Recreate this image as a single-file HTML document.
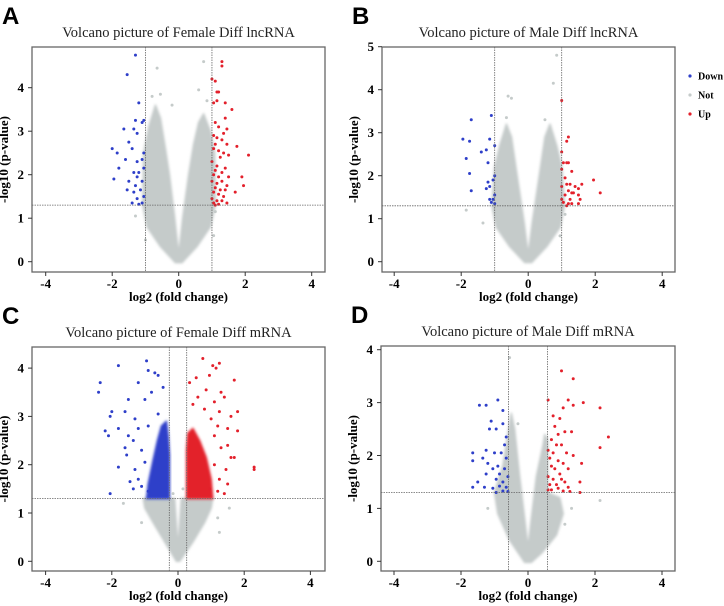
<!DOCTYPE html>
<html><head><meta charset="utf-8"><style>
html,body{margin:0;padding:0;background:#fff;width:724px;height:606px;overflow:hidden}
svg text{font-family:"Liberation Serif",serif}
</style></head><body>
<svg id="fig" width="724" height="606" xmlns="http://www.w3.org/2000/svg">
<defs><filter id="soft" x="-10%" y="-10%" width="120%" height="120%"><feGaussianBlur stdDeviation="1.2"/></filter></defs>
</svg>
<script>
// ---- Panel A data ----
const aCloud=[[-0.1,-0.02],[-0.55,0.35],[-0.95,0.8],[-1.08,1.3],[-1.05,2.5],[-0.9,3.1],[-0.7,3.6],[-0.55,3.3],[-0.4,2.6],[-0.28,2.0],[-0.12,1.0],[0,0.15],[0.12,1.0],[0.3,2.0],[0.45,2.7],[0.6,3.2],[0.75,3.4],[0.95,3.0],[1.08,2.5],[1.1,1.3],[0.95,0.8],[0.55,0.35],[0.1,-0.02]];
const aUp=[[1.3,4.6],[1.3,4.5],[1.0,4.2],[1.1,4.15],[1.15,3.9],[1.2,3.9],[1.05,3.65],[1.15,3.7],[1.4,3.65],[1.6,3.5],[1.4,3.3],[1.1,3.2],[1.2,3.1],[1.45,3.05],[1.35,2.95],[1.05,2.9],[1.15,2.85],[1.3,2.8],[1.1,2.7],[1.45,2.7],[1.75,2.65],[1.05,2.6],[1.2,2.55],[1.35,2.5],[1.5,2.45],[2.1,2.45],[1.25,2.4],[1.0,2.3],[1.15,2.2],[1.4,2.15],[1.1,2.1],[1.3,2.05],[1.05,2.0],[1.2,1.95],[1.5,1.95],[1.9,1.95],[1.0,1.85],[1.3,1.85],[1.15,1.8],[1.45,1.75],[1.95,1.75],[1.1,1.7],[1.25,1.65],[1.4,1.65],[1.05,1.6],[1.7,1.6],[1.2,1.55],[1.35,1.5],[1.0,1.45],[1.15,1.4],[1.3,1.4],[1.45,1.35],[1.05,1.35],[1.2,1.32],[1.1,1.3]];
const aDown=[[-1.3,4.75],[-1.55,4.3],[-1.2,3.65],[-1.3,3.25],[-1.05,3.25],[-1.1,3.2],[-1.65,3.05],[-1.35,3.05],[-1.25,2.95],[-1.5,2.75],[-2.0,2.6],[-1.4,2.6],[-1.85,2.5],[-1.05,2.5],[-1.6,2.35],[-1.25,2.3],[-1.1,2.35],[-1.8,2.15],[-1.05,2.15],[-1.35,2.05],[-1.2,2.05],[-1.25,1.95],[-1.95,1.9],[-1.5,1.85],[-1.1,1.85],[-1.3,1.75],[-1.55,1.65],[-1.15,1.65],[-1.35,1.6],[-1.05,1.5],[-1.25,1.45],[-1.4,1.35],[-1.1,1.35],[-1.2,1.32]];
const aNot=[[0.75,4.6],[-0.65,4.45],[-0.55,3.85],[0.6,3.95],[-0.2,3.6],[0.85,3.7],[-0.8,3.8],[1.1,1.15],[-0.95,1.0],[-1.3,1.05],[1.05,0.6],[-1.0,0.5]];
// ---- Panel B data ----
const bCloud=[[-0.1,-0.02],[-0.55,0.35],[-0.95,0.8],[-1.08,1.3],[-1.0,2.2],[-0.85,2.7],[-0.65,3.2],[-0.5,2.9],[-0.35,2.1],[-0.12,0.9],[0,0.15],[0.12,0.9],[0.35,2.1],[0.5,2.9],[0.65,3.2],[0.85,2.7],[1.0,2.2],[1.08,1.3],[0.95,0.8],[0.55,0.35],[0.1,-0.02]];
const bUp=[[1.0,3.75],[1.2,2.9],[1.15,2.8],[1.0,2.55],[1.05,2.3],[1.15,2.3],[1.2,2.3],[1.0,2.15],[1.3,2.1],[1.1,1.95],[1.95,1.9],[1.6,1.8],[1.0,1.75],[1.15,1.8],[1.25,1.8],[1.4,1.75],[1.5,1.7],[1.2,1.65],[1.3,1.6],[1.35,1.6],[2.15,1.6],[1.1,1.55],[1.5,1.55],[1.0,1.45],[1.25,1.45],[1.55,1.45],[1.05,1.38],[1.2,1.35],[1.3,1.35],[1.5,1.35],[1.15,1.3]];
const bDown=[[-1.7,3.3],[-1.1,3.4],[-1.95,2.85],[-1.75,2.8],[-1.15,2.85],[-1.0,2.7],[-1.4,2.55],[-1.25,2.6],[-1.85,2.4],[-1.2,2.3],[-1.75,2.05],[-1.0,2.0],[-1.2,1.85],[-1.05,1.9],[-1.15,1.75],[-1.25,1.7],[-1.7,1.65],[-1.0,1.55],[-1.15,1.45],[-1.05,1.45],[-1.1,1.38],[-1.0,1.35]];
const bNot=[[0.85,4.8],[0.75,4.15],[-0.6,3.85],[-0.5,3.8],[-0.65,3.35],[0.5,3.3],[-1.85,1.2],[-1.35,0.9],[1.1,1.1],[0.95,0.6]];
// ---- Panel C data ----
const cCloud=[[-0.05,0],[-0.4,0.4],[-0.75,0.8],[-1.0,1.1],[-1.05,1.3],[-0.1,1.3],[0,0.25],[0.1,1.3],[1.05,1.3],[1.0,1.1],[0.8,0.8],[0.45,0.4],[0.05,0]];
const cDownDense=[[-0.26,1.3],[-0.95,1.3],[-0.9,1.6],[-0.75,2.1],[-0.62,2.5],[-0.5,2.8],[-0.35,2.9],[-0.3,2.6],[-0.26,2.2]];
const cUpDense=[[0.26,1.3],[1.05,1.3],[1.0,1.7],[0.85,2.15],[0.65,2.5],[0.45,2.75],[0.3,2.65],[0.26,2.3]];
const cUp=[[0.75,4.2],[1.05,4.05],[1.25,4.1],[1.15,4.0],[0.55,3.8],[0.95,3.85],[1.7,3.75],[0.35,3.7],[0.85,3.55],[1.3,3.5],[0.6,3.4],[1.1,3.3],[1.4,3.4],[0.45,3.25],[1.8,3.1],[1.25,3.1],[1.6,3.0],[0.8,3.15],[1.0,2.95],[1.8,2.7],[1.5,2.75],[1.2,2.8],[1.5,2.4],[1.3,2.35],[1.1,2.6],[1.7,2.15],[1.6,2.15],[2.3,1.95],[2.3,1.9],[1.45,1.9],[1.25,1.7],[1.1,2.0],[1.5,1.6],[1.4,1.4],[1.2,1.45],[0.95,1.5]];
const cDown=[[-2.35,3.7],[-2.4,3.5],[-1.8,4.05],[-0.95,4.15],[-0.9,3.95],[-0.7,3.9],[-0.6,3.85],[-1.2,3.7],[-0.45,3.6],[-1.5,3.35],[-0.8,3.5],[-1.0,3.35],[-2.05,3.0],[-2.0,3.1],[-1.6,3.1],[-1.3,2.95],[-0.6,3.05],[-2.2,2.7],[-2.1,2.6],[-1.8,2.75],[-1.5,2.6],[-1.2,2.75],[-0.9,2.8],[-1.6,2.35],[-1.35,2.5],[-1.55,2.2],[-1.8,1.95],[-1.1,2.3],[-1.3,1.9],[-1.0,2.05],[-1.2,1.7],[-1.45,1.65],[-2.05,1.4],[-1.1,1.55],[-0.9,1.45],[-1.35,1.5]];
const cNot=[[-1.65,1.2],[1.55,1.1],[1.2,0.9],[-1.1,0.8],[0.15,1.5],[-0.15,1.4],[1.25,0.6]];
// ---- Panel D data ----
const dCloud=[[-0.1,-0.02],[-0.55,0.4],[-0.9,0.9],[-1.0,1.3],[-0.75,1.8],[-0.6,2.4],[-0.5,2.8],[-0.4,2.5],[-0.25,1.6],[-0.08,0.7],[0,0.25],[0.08,0.7],[0.25,1.6],[0.45,2.2],[0.5,2.4],[0.585,2.3],[0.585,1.3],[0.95,1.2],[1.05,0.9],[0.85,0.5],[0.4,0.15],[0.1,-0.02]];
const dUp=[[1.0,3.6],[1.35,3.45],[0.6,3.05],[1.2,3.05],[1.65,3.0],[2.15,2.9],[1.05,2.9],[1.35,2.95],[0.75,2.75],[0.95,2.7],[1.1,2.45],[1.3,2.45],[0.8,2.55],[0.9,2.4],[2.4,2.35],[0.7,2.3],[0.85,2.2],[1.0,2.2],[0.6,2.1],[0.75,2.05],[1.15,2.05],[2.15,2.15],[1.35,2.0],[0.65,1.95],[0.9,1.9],[1.05,1.85],[1.6,1.85],[0.7,1.8],[0.8,1.75],[1.2,1.75],[0.95,1.65],[0.6,1.6],[0.75,1.55],[1.0,1.55],[1.1,1.5],[1.55,1.5],[0.65,1.45],[0.85,1.45],[1.2,1.4],[0.6,1.35],[0.7,1.35],[0.9,1.38],[1.05,1.33],[1.55,1.3],[1.25,1.32]];
const dDown=[[-1.45,2.95],[-1.25,2.95],[-0.9,3.05],[-0.75,2.85],[-1.1,2.65],[-0.75,2.6],[-1.15,2.5],[-0.95,2.5],[-0.65,2.35],[-0.7,2.2],[-1.65,2.05],[-1.25,2.1],[-1.0,2.05],[-0.8,2.05],[-0.65,1.95],[-1.35,1.95],[-1.65,1.9],[-1.2,1.85],[-0.9,1.8],[-1.05,1.75],[-0.7,1.75],[-0.85,1.65],[-1.25,1.65],[-0.6,1.6],[-1.5,1.5],[-0.95,1.55],[-0.75,1.5],[-1.65,1.4],[-1.3,1.4],[-0.85,1.42],[-0.65,1.4],[-1.05,1.38],[-0.75,1.33],[-0.6,1.32],[-0.95,1.3]];
const dNot=[[-0.55,3.85],[2.15,1.15],[1.3,1.0],[-1.2,1.0],[-0.3,2.6],[1.1,0.7]];
const xTicks=[-4,-2,0,2,4];
const yTicksA=[0,1,2,3,4];
const yTicksB=[0,1,2,3,4,5];
const legendLabels=["Down","Not","Up"];

const NS="http://www.w3.org/2000/svg";
const svg=document.getElementById('fig');
const GREY="#c5cbca",BLUE="#2e3fc9",RED="#e3202b";
function mk(tag,attrs,parent){const e=document.createElementNS(NS,tag);for(const k in attrs)e.setAttribute(k,attrs[k]);(parent||svg).appendChild(e);return e;}

const panels=[
 {id:'a',letter:'A',title:'Volcano picture of Female Diff lncRNA',L:32,T:47,R:325,B:272,x0:178.7,xu:33.25,y0:261.7,yu:43.5,fc:1,yt:yTicksA,cloud:aCloud,up:aUp,down:aDown,not:aNot},
 {id:'b',letter:'B',title:'Volcano picture of Male Diff lncRNA',L:382,T:47,R:675,B:272,x0:528.2,xu:33.5,y0:261.7,yu:43,fc:1,yt:yTicksB,cloud:bCloud,up:bUp,down:bDown,not:bNot},
 {id:'c',letter:'C',title:'Volcano picture of Female Diff mRNA',L:32,T:347,R:325,B:571,x0:178,xu:33.1,y0:561.3,yu:48.3,fc:0.263,yt:yTicksA,cloud:cCloud,up:cUp,down:cDown,not:cNot,upDense:cUpDense,downDense:cDownDense},
 {id:'d',letter:'D',title:'Volcano picture of Male Diff mRNA',L:381,T:346,R:675,B:571,x0:528,xu:33.5,y0:561.3,yu:52.9,fc:0.585,yt:yTicksA,cloud:dCloud,up:dUp,down:dDown,not:dNot}
];

panels.forEach(p=>{
 const X=v=>p.x0+v*p.xu, Y=v=>p.y0-v*p.yu;
 const g=mk('g',{});
 
 
 const lt=mk('text',{x:p.L-30,y:p.T-23,'font-size':24,'font-weight':'bold',style:'font-family:"Liberation Sans",sans-serif'},g);
 lt.textContent=p.letter;
 
 
 const tt=mk('text',{x:(p.L+p.R)/2,y:p.T-10,'font-size':14.5,'text-anchor':'middle',fill:'#222'},g);
 tt.textContent=p.title;
 
 
 const cp='clip'+p.id;
 const defs=mk('defs',{},g);const cl=mk('clipPath',{id:cp},defs);mk('rect',{x:p.L,y:p.T,width:p.R-p.L,height:p.B-p.T},cl);
 const pl=mk('g',{'clip-path':'url(#'+cp+')'},g);
 const poly=(arr,col,name)=>{const e=mk('polygon',{points:arr.map(d=>X(d[0])+','+Y(d[1])).join(' '),fill:col,stroke:col,'stroke-width':1.5,'stroke-linejoin':'round',filter:'url(#soft)'},pl);
  
  };
 poly(p.cloud,GREY,'not-significant-cloud');
 if(p.downDense)poly(p.downDense,BLUE,'down-dense-cluster');
 if(p.upDense)poly(p.upDense,RED,'up-dense-cluster');
 const dots=(arr,col,name)=>arr.forEach(d=>{const c=mk('circle',{cx:X(d[0]),cy:Y(d[1]),r:1.5,fill:col},pl);
  
  });
 dots(p.not,GREY,'not-point');dots(p.down,BLUE,'down-point');dots(p.up,RED,'up-point');
 [-p.fc,p.fc].forEach(v=>{const l=mk('line',{x1:X(v),x2:X(v),y1:p.T,y2:p.B,stroke:'#666','stroke-width':0.8,'stroke-dasharray':'1.5,1'},g);
  
  });
 const hl=mk('line',{x1:p.L,x2:p.R,y1:Y(1.3),y2:Y(1.3),stroke:'#666','stroke-width':0.8,'stroke-dasharray':'1.5,1'},g);
 
 
 const bx=mk('rect',{x:p.L,y:p.T,width:p.R-p.L,height:p.B-p.T,fill:'none',stroke:'#666','stroke-width':1.3},g);
 
 
 xTicks.forEach(v=>{mk('line',{x1:X(v),x2:X(v),y1:p.B,y2:p.B+4,stroke:'#333'},g);
  const t=mk('text',{x:X(v),y:p.B+16,'font-size':13,'font-weight':'bold','text-anchor':'middle'},g);t.textContent=v;
  
  });
 p.yt.forEach(v=>{mk('line',{x1:p.L-4,x2:p.L,y1:Y(v),y2:Y(v),stroke:'#333'},g);
  const t=mk('text',{x:p.L-8,y:Y(v)+4.5,'font-size':13,'font-weight':'bold','text-anchor':'end'},g);t.textContent=v;
  
  });
 const xt=mk('text',{x:(p.L+p.R)/2,y:p.B+29,'font-size':13,'font-weight':'bold','text-anchor':'middle'},g);xt.textContent='log2 (fold change)';
 
 
 const yc=(p.T+p.B)/2;
 const yt=mk('text',{x:p.L-24,y:yc,'font-size':13,'font-weight':'bold','text-anchor':'middle',transform:`rotate(-90 ${p.L-24} ${yc})`},g);yt.textContent='-log10 (p-value)';
 
 
});
const legCols=[BLUE,GREY,RED];
legendLabels.forEach((lab,i)=>{
 const gy=76+i*19;
 const c=mk('circle',{cx:690,cy:gy,r:1.6,fill:legCols[i]});
 
 
 const t=mk('text',{x:698,y:gy+3.5,'font-size':10,'font-weight':'bold'});t.textContent=lab;
 
 
});
</script>
</body></html>
